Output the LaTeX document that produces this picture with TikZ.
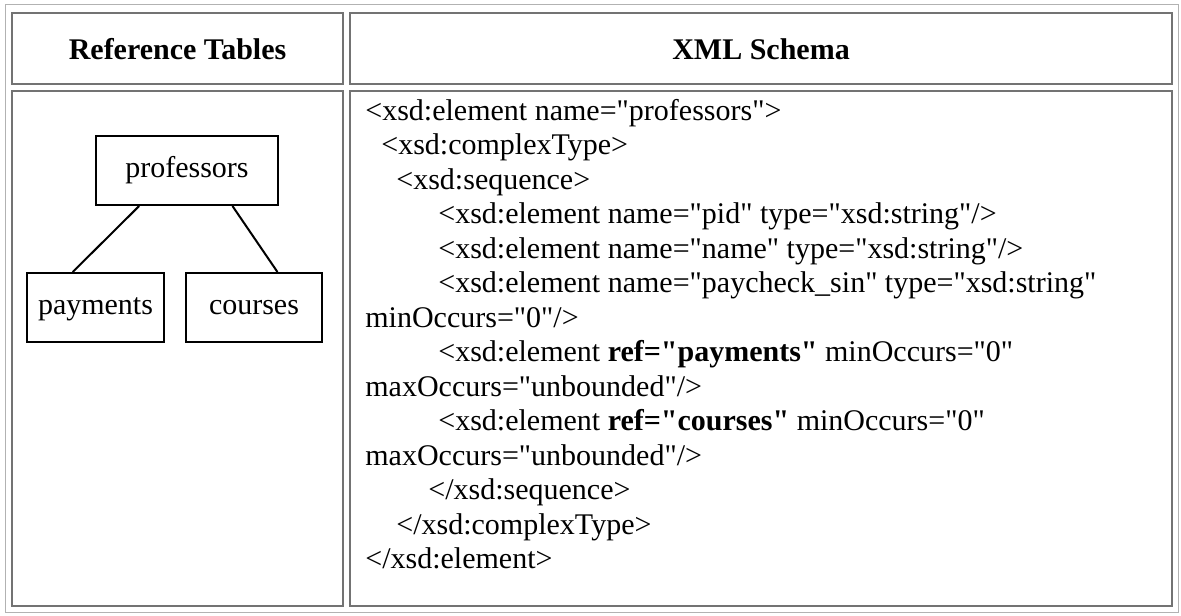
\documentclass[tikz,border=0pt]{standalone}
\usepackage{fontspec}
\setmainfont{Liberation Serif}
\usetikzlibrary{calc}
\newcommand{\dq}{\textquotedbl}
\begin{document}
\begin{tikzpicture}[x=0.5pt,y=-0.5pt,
  font=\fontsize{15}{17}\selectfont,
  outerframe/.style={draw=black!30, line width=0.5pt},
  cellframe/.style={draw=black!55, line width=0.8pt},
  tbox/.style={draw=black, line width=1pt, inner sep=0pt, minimum height=34.5pt, text height=10pt, text depth=3.5pt},
  conn/.style={draw=black, line width=1pt},
  code/.style={anchor=base west, inner sep=0pt},
  head/.style={anchor=base, inner sep=0pt, font=\fontsize{15}{17}\selectfont\bfseries}]
\useasboundingbox (0,0) rectangle (1181,615);
\fill[white] (0,0) rectangle (1181,615);
% table frames
\draw[outerframe] (5,5) rectangle (1178,612);
\draw[cellframe] (12,13) rectangle (343,84);
\draw[cellframe] (350,13) rectangle (1172,84);
\draw[cellframe] (12,91) rectangle (343,606);
\draw[cellframe] (350,91) rectangle (1172,606);
% headers
\node[head] (h1) at (177.5,60) {Reference Tables};
\node[head] (h2) at (761,60) {XML Schema};
% tree
\node[tbox, minimum width=91pt] (prof) at (187,170.5) {professors};
\node[tbox, minimum width=68.5pt] (pay) at (95.5,307.5) {payments};
\node[tbox, minimum width=68pt] (crs) at (254,307.5) {courses};
\draw[conn] ($(prof.south west)!0.24!(prof.south east)$) -- ($(pay.north west)!0.336!(pay.north east)$);
\draw[conn] ($(prof.south west)!0.747!(prof.south east)$) -- ($(crs.north west)!0.67!(crs.north east)$);
% schema code
\node[code] (l1) at (365,120) {<xsd:element name=\dq professors\dq>};
\node[code] (l2) at (381,154.5) {<xsd:complexType>};
\node[code] (l3) at (396,189) {<xsd:sequence>};
\node[code] (l4) at (438,223.5) {<xsd:element name=\dq pid\dq{} type=\dq xsd:string\dq/>};
\node[code] (l5) at (438,258) {<xsd:element name=\dq name\dq{} type=\dq xsd:string\dq/>};
\node[code] (l6) at (438,292.5) {<xsd:element name=\dq paycheck\_sin\dq{} type=\dq xsd:string\dq};
\node[code] (l7) at (365,327) {minOccurs=\dq 0\dq/>};
\node[code] (l8) at (438,361.5) {<xsd:element \textbf{ref=\dq payments\dq} minOccurs=\dq 0\dq};
\node[code] (l9) at (365,396) {maxOccurs=\dq unbounded\dq/>};
\node[code] (l10) at (438,430.5) {<xsd:element \textbf{ref=\dq courses\dq} minOccurs=\dq 0\dq};
\node[code] (l11) at (365,465) {maxOccurs=\dq unbounded\dq/>};
\node[code] (l12) at (428,499.5) {</xsd:sequence>};
\node[code] (l13) at (396,534) {</xsd:complexType>};
\node[code] (l14) at (365,568.5) {</xsd:element>};
\end{tikzpicture}
\end{document}
